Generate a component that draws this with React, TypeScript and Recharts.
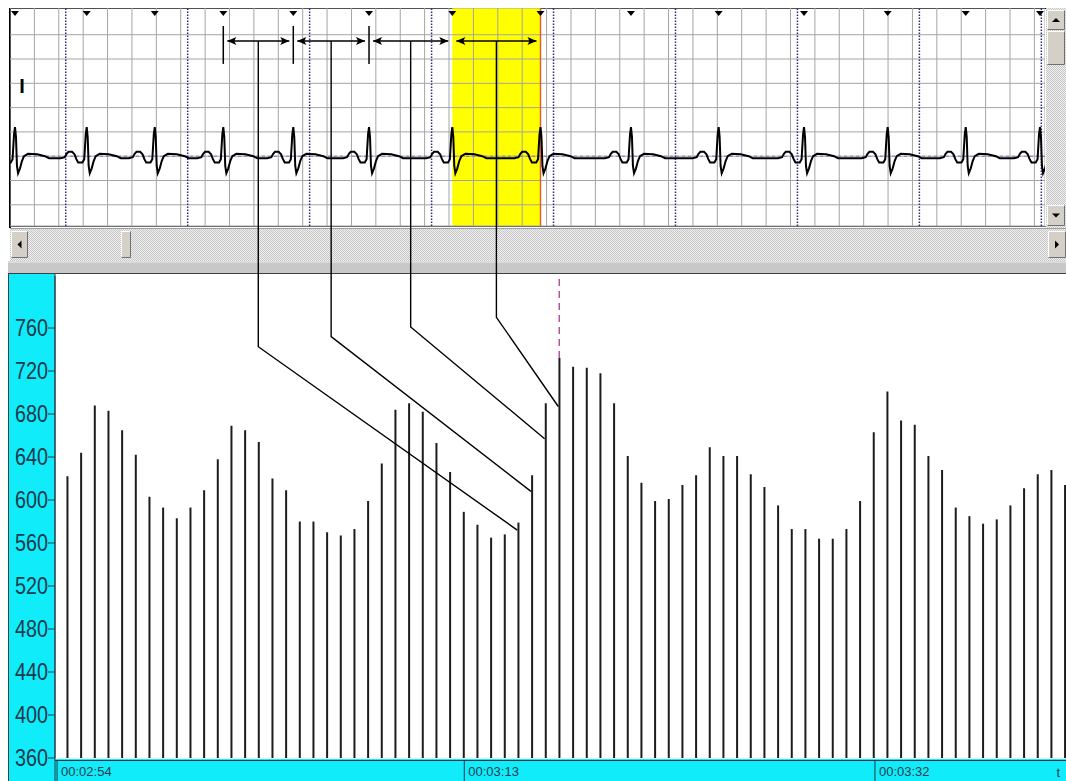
import React from 'react';
import {
  ComposedChart,
  Bar,
  Line,
  Scatter,
  XAxis,
  YAxis,
  CartesianGrid,
  ReferenceLine,
  ReferenceArea,
} from 'recharts';

// ---------- bottom tachogram: RR intervals (ms) ----------
const rrValues = [
  622, 644, 688, 683, 665, 642, 603, 593, 583, 593, 609, 638, 669, 665, 654, 620, 609, 580, 580, 570,
  567, 573, 599, 634, 684, 690, 682, 653, 626, 589, 577, 565, 568, 579, 623, 690, 732, 724, 723, 718,
  690, 641, 616, 599, 601, 614, 623, 649, 641, 641, 624, 612, 595, 573, 573, 564, 564, 573,
  599, 663, 701, 674, 670, 641, 628, 593, 585, 578, 582, 595, 611, 624, 628, 614,
];
const barData = rrValues.map((v, i) => ({ i, v }));
const yTicks = [360, 400, 440, 480, 520, 560, 600, 640, 680, 720, 760];
const timeLabels = ['00:02:54', '00:03:13', '00:03:32'];
const timeTickPos = [-0.75, 29.05, 59.1];
const cursorBar = 36;

// ---------- top ECG strip ----------
const beatTimes = [41, 629, 1187, 1749, 2323, 2944, 3627, 4350, 5092, 5811, 6511, 7197, 7837, 8446];
const tplMs = [-213, -180, -165, -150, -120, -100, -85, -70, -35, -20, -8, 0, 8, 16, 25, 41, 57, 74, 107, 181, 246, 279];
const tplMv = [-0.04, -0.02, 0.05, 0.09, 0.09, 0.04, -0.06, -0.13, -0.13, -0.06, 0.45, 0.6, 0.4, -0.2, -0.35, -0.25, -0.1, 0.0, 0.05, 0.04, 0.0, -0.04];
const secondMarks = [457, 1457, 2457, 3457, 4457, 5457, 6457, 7457, 8457];
const gridMs = Array.from({ length: 43 }, (_, k) => k * 200);
const gridMv = [-1, -0.5, 0, 0.5, 1, 1.5, 2, 2.5];
const measuredBeats = [3, 4, 5, 6];
const tickBeats = [3, 4, 5];
const highlightBeat = 6;
const markerLevel = 2.926;
const arrowLevel = 2.37;
const links = [
  { beat: 3, bar: 33, bend: 742.6, end: 572 },
  { beat: 4, bar: 34, bend: 752, end: 608 },
  { beat: 5, bar: 35, bend: 761, end: 657 },
  { beat: 6, bar: 36, bend: 770, end: 687 },
];

const ecgData = beatTimes.flatMap((b) => tplMs.map((d, j) => ({ t: b + d, v: tplMv[j] })));
const markerData = beatTimes.map((t) => ({ t, v: markerLevel }));

// ---------- layout ----------
const TOP = { left: 10, top: 8, width: 1035, height: 218, xMin: 0, xMax: 8487, yMin: -1.436, yMax: 3.05 };
const BOT = { left: 10, top: 274, width: 1056, height: 507, yAxisW: 45, xAxisH: 23, mTop: 2, xMin: -0.9, xMax: 73.08, yMin: 360, yMax: 808.4 };

const topX = (t: number) => TOP.left + ((t - TOP.xMin) / (TOP.xMax - TOP.xMin)) * TOP.width;
const topY = (v: number) => TOP.top + ((TOP.yMax - v) / (TOP.yMax - TOP.yMin)) * TOP.height;
const botX = (i: number) => BOT.left + BOT.yAxisW + ((i - BOT.xMin) / (BOT.xMax - BOT.xMin)) * (BOT.width - BOT.yAxisW);
const botY = (v: number) => BOT.top + BOT.mTop + ((BOT.yMax - v) / (BOT.yMax - BOT.yMin)) * (BOT.height - BOT.mTop - BOT.xAxisH);

const AXIS_INK = '#1e3a4c';
const CYAN = '#10ecfa';
const SANS = "'Liberation Sans', Arial, sans-serif";

const ArrowShape = (p: any) => {
  const { x1, y1, x2 } = p;
  const l = Math.min(x1, x2) + 4;
  const r = Math.max(x1, x2) - 4;
  const y = y1;
  return (
    <g>
      <line x1={l} y1={y} x2={r} y2={y} stroke="#000" strokeWidth={1.5} />
      <path d={`M${l},${y} l9,-4 l-2,4 l2,4 z`} fill="#000" />
      <path d={`M${r},${y} l-9,-4 l2,4 l-2,4 z`} fill="#000" />
    </g>
  );
};

const TriMarker = (p: any) => {
  const { cx, cy } = p;
  return <path d={`M${cx - 4},${cy - 3} L${cx + 4},${cy - 3} L${cx},${cy + 2} Z`} fill="#000" />;
};

const YTick = (p: any) => {
  const { x, y, payload } = p;
  return (
    <text
      transform={`translate(${x},${y}) scale(0.86,1)`}
      x={0}
      y={0}
      dy="0.36em"
      textAnchor="end"
      fontSize={23}
      fontFamily={SANS}
      fill={AXIS_INK}
    >
      {payload.value}
    </text>
  );
};

const TimeTick = (p: any) => {
  const { x, y, payload } = p;
  const idx = timeTickPos.indexOf(payload.value);
  return (
    <g>
      <line x1={x} y1={y + 3} x2={x} y2={y + 23} stroke={AXIS_INK} strokeWidth={1} />
      <text x={x + 4} y={y + 18} fontSize={13} fontFamily={SANS} fill={AXIS_INK}>
        {timeLabels[idx] ?? ''}
      </text>
    </g>
  );
};

const Button = ({ x, y, w, h, dir }: { x: number; y: number; w: number; h: number; dir: 'up' | 'down' | 'left' | 'right' | 'none' }) => {
  const cx = x + w / 2;
  const cy = y + h / 2;
  let tri = '';
  if (dir === 'up') tri = `M${cx - 4},${cy + 2} L${cx + 4},${cy + 2} L${cx},${cy - 2} Z`;
  if (dir === 'down') tri = `M${cx - 4},${cy - 2} L${cx + 4},${cy - 2} L${cx},${cy + 2} Z`;
  if (dir === 'left') tri = `M${cx + 2},${cy - 4} L${cx + 2},${cy + 4} L${cx - 2},${cy} Z`;
  if (dir === 'right') tri = `M${cx - 2},${cy - 4} L${cx - 2},${cy + 4} L${cx + 2},${cy} Z`;
  return (
    <g>
      <rect x={x} y={y} width={w} height={h} fill="#d4d0c8" />
      <path d={`M${x + 0.5},${y + h - 0.5} V${y + 0.5} H${x + w - 0.5}`} stroke="#fff" fill="none" />
      <path d={`M${x + 0.5},${y + h - 0.5} H${x + w - 0.5} V${y + 0.5}`} stroke="#707070" fill="none" />
      {tri && <path d={tri} fill="#000" />}
    </g>
  );
};

const Chrome = () => (
  <svg width={1066} height={781} style={{ position: 'absolute', left: 0, top: 0 }}>
    <defs>
      <pattern id="hatch" width="2" height="2" patternUnits="userSpaceOnUse">
        <rect width="2" height="2" fill="#f2f2f2" />
        <rect width="1" height="1" fill="#c4c4c4" />
        <rect x="1" y="1" width="1" height="1" fill="#c4c4c4" />
      </pattern>
    </defs>
    <rect x={0} y={0} width={1066} height={781} fill="#fff" />
    <rect x={TOP.left} y={TOP.top} width={TOP.width} height={TOP.height} fill="#fff" />
    {/* vertical scrollbar */}
    <rect x={1046} y={8} width={20} height={220} fill="url(#hatch)" />
    <Button x={1047} y={10} w={18} h={20} dir="up" />
    <Button x={1047} y={31} w={18} h={34} dir="none" />
    <Button x={1047} y={205} w={18} h={21} dir="down" />
    {/* horizontal scrollbar */}
    <rect x={10} y={228} width={1056} height={33} fill="url(#hatch)" />
    <line x1={10} y1={228.5} x2={1066} y2={228.5} stroke="#a0a0a0" />
    <Button x={11} y={231} w={17} h={27} dir="left" />
    <Button x={121} y={231} w={10} h={27} dir="none" />
    <Button x={1048} y={231} w={18} h={27} dir="right" />
    {/* separator */}
    <rect x={8} y={261} width={1058} height={13} fill="#c8c8c8" />
    <line x1={8} y1={262} x2={1066} y2={262} stroke="#eeeeee" />
    <line x1={8} y1={273.5} x2={1066} y2={273.5} stroke="#404040" />
    {/* top frame lines */}
    <line x1={9} y1={8.5} x2={1046} y2={8.5} stroke="#000" />
    <line x1={10} y1={8} x2={10} y2={228} stroke="#000" strokeWidth={2} />
    <line x1={10} y1={226.5} x2={1046} y2={226.5} stroke="#707070" />
    {/* bottom panel cyan areas */}
    <rect x={9} y={274} width={46} height={507} fill={CYAN} />
    <rect x={55} y={759} width={1011} height={22} fill={CYAN} />
    <line x1={8.5} y1={274} x2={8.5} y2={781} stroke="#404040" />
    <line x1={55} y1={274} x2={55} y2={781} stroke={AXIS_INK} />
    <line x1={55} y1={760.5} x2={1066} y2={760.5} stroke={AXIS_INK} />
  </svg>
);

const Overlay = () => (
  <svg width={1066} height={781} style={{ position: 'absolute', left: 0, top: 0, pointerEvents: 'none' }}>
    <text x={22} y={93} textAnchor="middle" fontSize={20} fontWeight="bold" fontFamily={SANS} fill="#000">
      I
    </text>
    {links.map((lk, k) => {
      const mid = (beatTimes[lk.beat] + beatTimes[lk.beat + 1]) / 2;
      const x0 = topX(mid);
      const y0 = topY(arrowLevel);
      const yb = botY(lk.bend);
      const x1 = botX(lk.bar) - 1;
      const y1 = botY(lk.end);
      return <path key={k} d={`M${x0},${y0} V${yb} L${x1},${y1}`} stroke="#000" strokeWidth={1.4} fill="none" />;
    })}
  </svg>
);

export default function App() {
  return (
    <div style={{ position: 'absolute', left: 0, top: 0, width: 1066, height: 781, overflow: 'hidden', background: '#fff' }}>
      <Chrome />
      {/* yellow highlighted RR interval (underlay) */}
      <div style={{ position: 'absolute', left: TOP.left, top: TOP.top }}>
        <ComposedChart width={TOP.width} height={TOP.height} data={ecgData} margin={{ top: 0, right: 0, bottom: 0, left: 0 }}>
          <XAxis dataKey="t" type="number" hide domain={[TOP.xMin, TOP.xMax]} allowDataOverflow />
          <YAxis type="number" hide domain={[TOP.yMin, TOP.yMax]} allowDataOverflow />
          <ReferenceArea
            x1={beatTimes[highlightBeat]}
            x2={beatTimes[highlightBeat + 1]}
            fill="#ffff00"
            fillOpacity={1}
            stroke="none"
          />
          <Line dataKey="v" stroke="none" dot={false} isAnimationActive={false} />
        </ComposedChart>
      </div>
      {/* ECG strip */}
      <div style={{ position: 'absolute', left: TOP.left, top: TOP.top }}>
        <ComposedChart width={TOP.width} height={TOP.height} data={ecgData} margin={{ top: 0, right: 0, bottom: 0, left: 0 }}>
          <XAxis dataKey="t" type="number" hide domain={[TOP.xMin, TOP.xMax]} allowDataOverflow ticks={gridMs} interval={0} />
          <YAxis type="number" hide domain={[TOP.yMin, TOP.yMax]} allowDataOverflow ticks={gridMv} interval={0} />
          <CartesianGrid stroke="#a4a4a4" strokeWidth={1} />
          {secondMarks.map((s) => (
            <ReferenceLine key={s} x={s} stroke="#2c2c80" strokeWidth={1.5} strokeDasharray="1.5 1.5" />
          ))}
          <ReferenceLine y={0} stroke="#7c7cc8" strokeDasharray="3 3" />
          <ReferenceLine x={beatTimes[highlightBeat + 1]} stroke="#e0602a" strokeWidth={1.5} />
          {tickBeats.map((b) => (
            <ReferenceLine
              key={`tk${b}`}
              segment={[
                { x: beatTimes[b], y: 2.68 },
                { x: beatTimes[b], y: 1.9 },
              ]}
              stroke="#000"
              strokeWidth={1.5}
            />
          ))}
          {measuredBeats.map((b) => (
            <ReferenceLine
              key={`ar${b}`}
              segment={[
                { x: beatTimes[b], y: arrowLevel },
                { x: beatTimes[b + 1], y: arrowLevel },
              ]}
              shape={ArrowShape}
            />
          ))}
          <Line dataKey="v" type="linear" stroke="#000" strokeWidth={2} dot={false} isAnimationActive={false} />
          <Scatter data={markerData} dataKey="v" shape={TriMarker} isAnimationActive={false} />
        </ComposedChart>
      </div>
      {/* tachogram */}
      <div style={{ position: 'absolute', left: BOT.left, top: BOT.top }}>
        <ComposedChart
          width={BOT.width}
          height={BOT.height}
          data={barData}
          margin={{ top: BOT.mTop, right: 0, bottom: 0, left: 0 }}
        >
          <XAxis
            dataKey="i"
            type="number"
            domain={[BOT.xMin, BOT.xMax]}
            allowDataOverflow
            ticks={timeTickPos}
            interval={0}
            height={BOT.xAxisH}
            tickSize={0}
            tickMargin={0}
            tickLine={false}
            axisLine={false}
            tick={<TimeTick />}
            label={{ value: 't', position: 'insideRight', offset: 6, fill: AXIS_INK, fontSize: 13, fontFamily: SANS, dy: 3 }}
          />
          <YAxis
            type="number"
            domain={[BOT.yMin, BOT.yMax]}
            allowDataOverflow
            ticks={yTicks}
            interval={0}
            width={BOT.yAxisW}
            tickSize={7}
            tickMargin={0}
            tick={<YTick />}
            tickLine={{ stroke: AXIS_INK }}
            axisLine={{ stroke: AXIS_INK }}
          />
          <Bar dataKey="v" barSize={2} fill="#1c1c1c" isAnimationActive={false} />
          <ReferenceLine
            segment={[
              { x: cursorBar, y: rrValues[cursorBar] },
              { x: cursorBar, y: BOT.yMax },
            ]}
            stroke="#b0559a"
            strokeWidth={1.5}
            strokeDasharray="7 5"
          />
        </ComposedChart>
      </div>
      <Overlay />
    </div>
  );
}
